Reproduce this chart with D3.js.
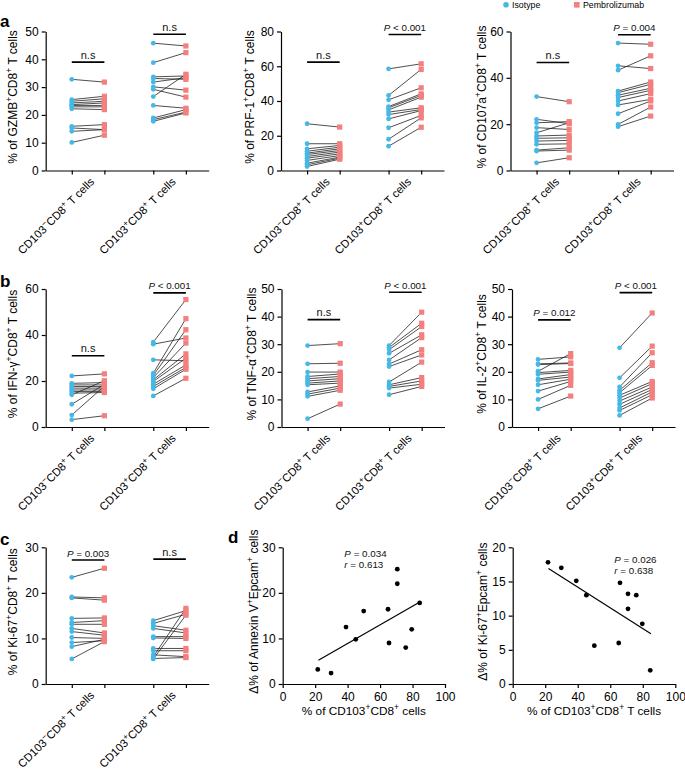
<!DOCTYPE html>
<html>
<head>
<meta charset="utf-8">
<script src="https://cdnjs.cloudflare.com/ajax/libs/d3/7.8.5/d3.min.js"></script>
<style>
body { margin: 0; background: #fff; }
svg { font-family: "Liberation Sans", Arial, Helvetica, sans-serif; }
.axis path, .axis line { stroke: #000; stroke-width: 1.2; }
.axis text { font-size: 12px; fill: #000; }
</style>
</head>
<body>
<script>
// ---- data ----
var groupLabels = ["CD103^{−}CD8^{+} T cells", "CD103^{+}CD8^{+} T cells"];
var legendLabels = ["Isotype", "Pembrolizumab"];

// each array: [CD103- group, CD103+ group], 12 donors, paired by index
var gzmbIso = [[32.8,25.5,24.9,24.3,23.7,23.4,22.9,22.2,15.9,15.3,14.1,10.1],
               [45.8,38.8,33.7,33.1,31.8,30.1,29.2,26.6,23.4,18.9,18.3,17.7]];
var gzmbPem = [[31.8,26.7,25.8,24.9,24.3,23.4,22.9,21.9,16.5,14.7,14.7,12.7],
               [44.8,42.4,34.0,32.8,33.4,28.9,26.4,34.6,22.4,21.9,21.0,20.7]];
var prfIso  = [[26.9,15.4,12.5,11.1,10.0,9.2,8.1,7.1,5.8,4.2,3.3,2.3],
               [58.5,43.2,40.7,36.8,36.1,34.9,33.6,32.2,29.7,24.6,18.0,14.0]];
var prfPem  = [[25.0,15.4,14.4,13.4,12.5,11.5,10.6,9.6,8.6,7.7,7.1,6.5],
               [61.4,58.2,47.6,44.1,43.2,42.2,36.1,35.1,34.5,31.7,30.3,24.9]];
var cd107Iso = [[31.9,22.1,20.6,18.5,16.3,14.9,13.9,12.7,11.3,8.8,8.4,3.3],
                [55.0,45.2,43.3,34.3,33.6,32.5,31.5,30.0,28.3,24.5,19.9,18.9]];
var cd107Pem = [[29.7,20.2,21.1,17.7,20.6,15.3,14.1,13.0,11.5,9.8,8.8,5.5],
                [54.5,44.0,49.5,38.2,37.2,35.5,34.6,33.2,30.7,30.0,27.4,23.5]];
var ifnIso = [[22.2,19.0,18.3,17.6,16.9,16.1,15.4,14.7,14.0,9.9,5.2,3.2],
              [36.9,36.0,29.2,23.4,22.4,21.5,20.5,19.8,18.6,17.6,16.6,13.5]];
var ifnPem = [[23.1,19.3,18.3,17.6,16.9,16.1,15.4,15.0,20.1,18.5,17.8,4.9],
              [55.4,38.7,28.8,47.1,42.3,36.5,31.8,29.9,27.0,25.9,25.1,21.2]];
var tnfIso = [[29.5,22.9,19.9,18.3,17.5,16.7,15.9,15.3,12.7,11.9,11.1,3.0],
              [29.5,28.8,28.0,26.7,24.3,22.8,21.9,16.3,15.3,14.7,14.1,11.7]];
var tnfPem = [[30.2,23.1,19.9,19.2,18.3,17.5,16.7,15.9,14.9,14.1,13.3,8.3],
              [41.6,37.6,36.4,33.4,32.4,28.0,26.1,23.5,17.9,16.7,15.5,14.7]];
var il2Iso = [[24.5,22.9,22.6,20.2,19.7,19.1,17.4,16.9,15.3,13.0,10.0,6.6],
              [28.7,17.8,14.5,13.3,12.4,11.5,10.5,9.4,8.2,6.9,6.0,4.2]];
var il2Pem = [[25.4,23.2,23.0,26.6,20.5,19.9,19.0,18.1,17.3,16.5,15.1,11.2],
              [41.3,29.3,26.9,23.3,22.3,16.5,15.7,14.5,13.6,12.7,11.7,10.5]];
var ki67Iso = [[23.4,19.1,18.9,14.4,13.5,13.1,12.2,11.5,10.2,9.1,8.2,5.5],
               [13.9,13.3,12.8,12.2,10.4,10.1,7.8,7.3,6.4,6.0,5.6,5.5]];
var ki67Pem = [[25.4,18.9,18.4,14.5,13.9,13.1,11.2,10.7,10.0,9.5,9.8,9.3],
               [16.1,15.3,11.8,11.2,10.4,10.0,7.8,7.3,6.0,16.6,5.8,15.1]];

// significance labels and bar heights (axis units)
var gzmbSig = ["n.s", "n.s"],             gzmbSigY = [39, 49];
var prfSig = ["n.s", "*P* < 0.001"],       prfSigY = [62.4, 78.3];
var cd107Sig = ["n.s", "*P* = 0.004"],     cd107SigY = [46.6, 58.6];
var ifnSig = ["n.s", "*P* < 0.001"],       ifnSigY = [31, 58.3];
var tnfSig = ["n.s", "*P* < 0.001"],       tnfSigY = [38.9, 48.8];
var il2Sig = ["*P* = 0.012", "*P* < 0.001"], il2SigY = [38.8, 48.7];
var ki67Sig = ["*P* = 0.003", "n.s"],      ki67SigY = [27.2, 27.4];

// panel d scatter
var cd103Pct1 = [21.6,29.8,39.0,45.0,49.9,64.9,65.5,70.6,70.6,75.8,79.5,84.4];
var annexinDelta = [3.2,2.4,12.5,9.8,16.0,16.4,9.0,25.2,22.0,8.0,12.0,17.8];
var annexinFitX = [22, 84.5], annexinFitY = [5.2, 18.0];
var annexinStats = ["*P* = 0.034", "*r* = 0.613"];
var cd103Pct2 = [21.7,29.9,39.1,45.3,50.2,65.2,66.0,70.9,70.9,76.0,79.7,84.6];
var ki67Delta = [17.8,17.0,15.1,13.0,5.6,6.0,14.8,13.2,11.0,13.0,8.8,2.0];
var ki67FitX = [22, 85], ki67FitY = [16.9, 7.35];
var ki67Stats = ["*P* = 0.026", "*r* = 0.638"];

// ---- drawing ----
var blue = "#45b8e6", pink = "#f47f7f";
var svg = d3.select("body").append("svg").attr("width", 685).attr("height", 769);

// text with ^{sup} and *italic* markup
function rich(text, str, fs) {
  var parts = str.split(/(\^\{[^}]*\}|\*[^*]*\*)/).filter(function (s) { return s.length; });
  var shift = fs * 0.4, up = false;
  parts.forEach(function (p) {
    var t = text.append("tspan");
    if (p[0] == "^") {
      t.text(p.slice(2, -1)).attr("font-size", fs * 0.72);
      if (!up) t.attr("dy", -shift);
      up = true;
    } else {
      if (p[0] == "*") t.text(p.slice(1, -1)).attr("font-style", "italic");
      else t.text(p);
      if (up) t.attr("dy", shift);
      up = false;
    }
  });
}

function styleAxis(sel) {
  sel.attr("class", "axis").attr("font-family", null);
}

function yTitle(g, h, td, str) {
  var t = g.append("text")
    .attr("transform", "translate(" + (-td) + "," + (h / 2 - 4) + ") rotate(-90)")
    .attr("text-anchor", "middle").attr("font-size", 12);
  rich(t, str, 12);
}

var slots = [0.8, 1.8, 3.3, 4.3];

function pairPanel(p) {
  var w = 163, h = p.bottom - p.top;
  var g = svg.append("g").attr("transform", "translate(" + p.x + "," + p.top + ")");
  var x = d3.scaleLinear().domain([0, 5]).range([0, w]);
  var y = d3.scaleLinear().domain([0, p.max]).range([h, 0]);

  g.append("g").call(d3.axisLeft(y).tickValues(d3.range(0, p.max + 1, p.step))
    .tickSize(4).tickPadding(3).tickSizeOuter(0)).call(styleAxis);
  g.append("g").attr("transform", "translate(0," + h + ")")
    .call(d3.axisBottom(x).tickValues(slots).tickFormat("").tickSize(4).tickSizeOuter(0))
    .call(styleAxis);

  [0, 1].forEach(function (gi) {
    var xa = x(slots[2 * gi]), xb = x(slots[2 * gi + 1]);
    var iso = p.iso[gi], pem = p.pem[gi];
    g.append("g").selectAll("line").data(iso).enter().append("line")
      .attr("x1", xa).attr("x2", xb)
      .attr("y1", function (d) { return y(d); })
      .attr("y2", function (d, i) { return y(pem[i]); })
      .attr("stroke", "#222").attr("stroke-width", 0.8);
    g.append("g").selectAll("circle").data(iso).enter().append("circle")
      .attr("cx", xa).attr("cy", function (d) { return y(d); })
      .attr("r", 2.4).attr("fill", blue);
    g.append("g").selectAll("rect").data(pem).enter().append("rect")
      .attr("x", xb - 2.6).attr("y", function (d) { return y(d) - 2.6; })
      .attr("width", 5.2).attr("height", 5.2).attr("fill", pink);

    // significance bar
    var sy = y(p.sigY[gi]);
    g.append("line").attr("x1", xa).attr("x2", xb).attr("y1", sy).attr("y2", sy)
      .attr("stroke", "#000").attr("stroke-width", 1.6);
    var lab = p.sig[gi], fs = lab == "n.s" ? 11 : 9.8;
    var st = g.append("text").attr("x", (xa + xb) / 2).attr("y", sy - 3.5)
      .attr("text-anchor", "middle").attr("font-size", fs).attr("fill", "#111");
    rich(st, lab, fs);

    // category label
    var cx = (xa + xb) / 2 + 7, cy = h + 12;
    var ct = g.append("text").attr("transform", "translate(" + cx + "," + cy + ") rotate(-45)")
      .attr("text-anchor", "end").attr("font-size", 11.3);
    rich(ct, groupLabels[gi], 11.3);
  });

  yTitle(g, h, p.td, p.title);
}

function scatterPanel(p) {
  var w = p.w, h = p.bottom - p.top;
  var g = svg.append("g").attr("transform", "translate(" + p.x + "," + p.top + ")");
  var x = d3.scaleLinear().domain([0, 100]).range([0, w]);
  var y = d3.scaleLinear().domain([0, p.max]).range([h, 0]);

  g.append("g").call(d3.axisLeft(y).tickValues(d3.range(0, p.max + 1, p.step))
    .tickSize(4).tickPadding(3).tickSizeOuter(0)).call(styleAxis);
  g.append("g").attr("transform", "translate(0," + h + ")")
    .call(d3.axisBottom(x).tickValues(d3.range(0, 101, 20)).tickSize(4).tickPadding(4).tickSizeOuter(0))
    .call(styleAxis);

  g.append("line")
    .attr("x1", x(p.fitX[0])).attr("y1", y(p.fitY[0]))
    .attr("x2", x(p.fitX[1])).attr("y2", y(p.fitY[1]))
    .attr("stroke", "#000").attr("stroke-width", 1.2);

  g.append("g").selectAll("circle").data(p.xs).enter().append("circle")
    .attr("cx", function (d) { return x(d); })
    .attr("cy", function (d, i) { return y(p.ys[i]); })
    .attr("r", 2.4).attr("fill", "#000");

  p.stats.forEach(function (s, i) {
    var t = g.append("text").attr("x", x(p.statPos[0])).attr("y", y(p.statPos[1]) + i * 11)
      .attr("font-size", 9.8).attr("fill", "#111");
    rich(t, s, 9.8);
  });

  var xt = g.append("text").attr("x", w / 2).attr("y", h + 31)
    .attr("text-anchor", "middle").attr("font-size", 11.8);
  rich(xt, p.xTitle, 11.8);
  yTitle(g, h, p.td, p.title);
}

pairPanel({x: 45.7, top: 31.5, bottom: 170.5, max: 50, step: 10, td: 29,
  iso: gzmbIso, pem: gzmbPem, sig: gzmbSig, sigY: gzmbSigY, title: "% of GZMB^{+}CD8^{+} T cells"});
pairPanel({x: 281, top: 31.5, bottom: 170.5, max: 80, step: 20, td: 27,
  iso: prfIso, pem: prfPem, sig: prfSig, sigY: prfSigY, title: "% of PRF-1^{+}CD8^{+} T cells"});
pairPanel({x: 510.5, top: 31.5, bottom: 170.5, max: 60, step: 20, td: 24.5,
  iso: cd107Iso, pem: cd107Pem, sig: cd107Sig, sigY: cd107SigY, title: "% of CD107a^{+}CD8^{+} T cells"});
pairPanel({x: 45.7, top: 289, bottom: 427, max: 60, step: 20, td: 29,
  iso: ifnIso, pem: ifnPem, sig: ifnSig, sigY: ifnSigY, title: "% of IFN-γ^{+}CD8^{+} T cells"});
pairPanel({x: 281.5, top: 289, bottom: 427, max: 50, step: 10, td: 26,
  iso: tnfIso, pem: tnfPem, sig: tnfSig, sigY: tnfSigY, title: "% of TNF-α^{+}CD8^{+} T cells"});
pairPanel({x: 512, top: 289, bottom: 427, max: 50, step: 10, td: 26,
  iso: il2Iso, pem: il2Pem, sig: il2Sig, sigY: il2SigY, title: "% of IL-2^{+}CD8^{+} T cells"});
pairPanel({x: 45.7, top: 547.3, bottom: 684, max: 30, step: 10, td: 29,
  iso: ki67Iso, pem: ki67Pem, sig: ki67Sig, sigY: ki67SigY, title: "% of Ki-67^{+}CD8^{+} T cells"});

scatterPanel({x: 282.7, w: 162.3, top: 547.3, bottom: 684, max: 30, step: 10, td: 25,
  xs: cd103Pct1, ys: annexinDelta, fitX: annexinFitX, fitY: annexinFitY,
  stats: annexinStats, statPos: [38, 27.8],
  xTitle: "% of CD103^{+}CD8^{+} cells", title: "Δ% of Annexin V^{+}Epcam^{+} cells"});
scatterPanel({x: 512.7, w: 162.6, top: 547.3, bottom: 684, max: 20, step: 5, td: 25.5,
  xs: cd103Pct2, ys: ki67Delta, fitX: ki67FitX, fitY: ki67FitY,
  stats: ki67Stats, statPos: [62.5, 17.75],
  xTitle: "% of CD103^{+}CD8^{+} T cells", title: "Δ% of Ki-67^{+}Epcam^{+} cells"});

// panel letters
[["a", 0, 27], ["b", 0, 287], ["c", 0, 545], ["d", 228, 543]].forEach(function (l) {
  svg.append("text").attr("x", l[1]).attr("y", l[2]).attr("font-size", 17)
    .attr("font-weight", "bold").text(l[0]);
});

// legend
var leg = svg.append("g");
leg.append("circle").attr("cx", 506).attr("cy", 4.8).attr("r", 2.8).attr("fill", blue);
leg.append("text").attr("x", 512).attr("y", 7.5).attr("font-size", 8.8).text(legendLabels[0]);
leg.append("rect").attr("x", 574).attr("y", 2).attr("width", 5.6).attr("height", 5.6).attr("fill", pink);
leg.append("text").attr("x", 583).attr("y", 7.5).attr("font-size", 8.8).text(legendLabels[1]);
</script>
</body>
</html>
